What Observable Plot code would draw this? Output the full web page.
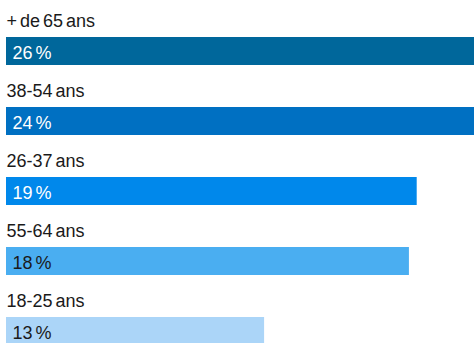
<!DOCTYPE html>
<html>
<head>
<meta charset="utf-8">
<script src="https://cdn.jsdelivr.net/npm/d3@7"></script>
<script src="https://cdn.jsdelivr.net/npm/@observablehq/plot@0.6"></script>
<style>
  html, body { margin: 0; padding: 0; background: #fff; overflow: hidden; }
  #chart { width: 474px; height: 343px; overflow: hidden; }
</style>
</head>
<body>
<div id="chart"></div>
<script>
// Age groups (top to bottom)
const categories = ["+ de 65 ans", "38-54 ans", "26-37 ans", "55-64 ans", "18-25 ans"];
// Displayed shares (%)
const shares = [26, 24, 19, 18, 13];
// Bar lengths (same % units, bars clipped at right edge)
const barLengths = [26, 24, 19, 18.64, 11.94];
const barColors = ["#00679b", "#0070c2", "#0088eb", "#4aaef1", "#abd5f8"];
const labelColors = ["#ffffff", "#ffffff", "#ffffff", "#1a1a1a", "#1a1a1a"];

const data = categories.map((c, i) => ({
  cat: c, share: shares[i], len: barLengths[i], color: barColors[i], tcolor: labelColors[i]
}));

const font = "'Liberation Sans', Arial, sans-serif";

const chart = Plot.plot({
  width: 474,
  height: 343,
  margin: 0,
  style: { fontFamily: font, background: "#fff" },
  x: { domain: [0, 19], range: [6, 416.7], axis: null },
  y: { domain: categories, range: [36.5, 344.5], paddingInner: 0.6, paddingOuter: 0, align: 0, axis: null },
  marks: [
    Plot.barX(data, { x1: 0, x2: "len", y: "cat", fill: "color", clip: true }),
    Plot.text(data, {
      x: 0, y: "cat", text: "cat", textAnchor: "start", dy: -30,
      fill: "#1a1a1a", fontSize: 18, lineAnchor: "middle"
    }),
    Plot.text(data, {
      x: 0, y: "cat", text: d => `${d.share} %`, textAnchor: "start", dx: 6, dy: 1.4,
      fill: "tcolor", fontSize: 18, lineAnchor: "middle"
    })
  ]
});
chart.querySelectorAll("text").forEach(t => t.style.wordSpacing = "-2px");
document.getElementById("chart").appendChild(chart);
</script>
</body>
</html>
